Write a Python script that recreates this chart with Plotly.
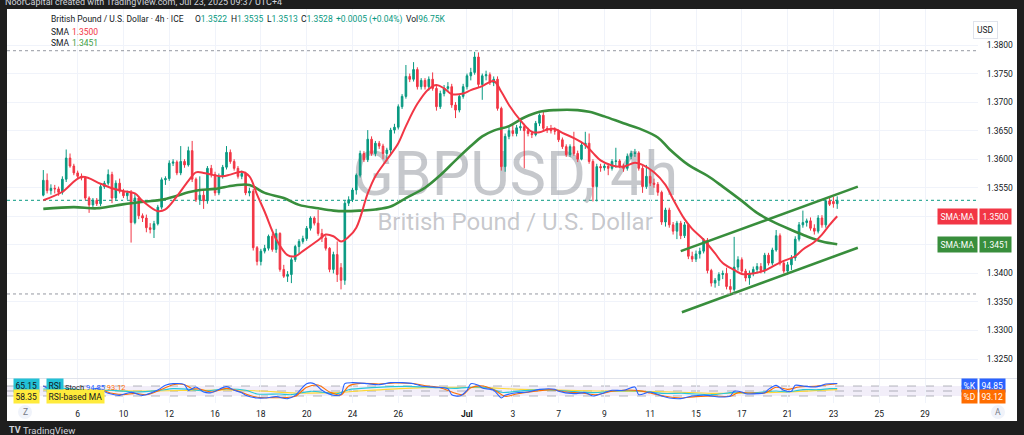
import plotly.graph_objects as go

W, H = 1024, 435
FONT = "Roboto, 'Noto Sans', sans-serif"
TXT = "#131722"
UP = "#089981"
DOWN = "#f23645"
GREEN = "#388e3c"
GRID = "#f0f3fa"

# ---------------- data ----------------
opens = [1.3537,1.3563,1.3545,1.3549,1.3548,1.3542,1.3565,1.3602,1.3588,1.3576,
 1.3570,1.3567,1.3532,1.3520,1.3528,1.3522,1.3552,1.3558,1.3573,1.3532,
 1.3558,1.3544,1.3536,1.3541,1.3489,1.3532,1.3501,1.3497,1.3480,1.3477,
 1.3487,1.3516,1.3564,1.3566,1.3593,1.3595,1.3576,1.3596,1.3590,1.3615,
 1.3565,1.3529,1.3537,1.3527,1.3584,1.3573,1.3541,1.3570,1.3586,1.3612,
 1.3596,1.3584,1.3570,1.3575,1.3541,1.3544,1.3445,1.3421,1.3439,1.3444,
 1.3465,1.3442,1.3470,1.3407,1.3395,1.3398,1.3424,1.3447,1.3456,1.3461,
 1.3479,1.3497,1.3488,1.3470,1.3462,1.3444,1.3407,1.3433,1.3410,1.3388,
 1.3523,1.3529,1.3546,1.3572,1.3610,1.3599,1.3635,1.3610,1.3628,1.3623,
 1.3610,1.3616,1.3651,1.3656,1.3692,1.3710,1.3745,1.3740,1.3757,1.3727,
 1.3738,1.3727,1.3740,1.3724,1.3692,1.3715,1.3724,1.3727,1.3695,1.3686,
 1.3710,1.3727,1.3746,1.3752,1.3779,1.3731,1.3746,1.3748,1.3734,1.3740,
 1.3689,1.3587,1.3640,1.3650,1.3645,1.3655,1.3657,1.3650,1.3645,1.3643,
 1.3663,1.3677,1.3654,1.3651,1.3650,1.3649,1.3634,1.3622,1.3608,1.3622,
 1.3610,1.3600,1.3625,1.3628,1.3596,1.3552,1.3587,1.3585,1.3588,1.3584,
 1.3596,1.3597,1.3588,1.3584,1.3605,1.3610,1.3611,1.3584,1.3552,1.3570,
 1.3558,1.3556,1.3542,1.3490,1.3511,1.3485,1.3474,1.3488,1.3466,1.3485,
 1.3430,1.3425,1.3434,1.3439,1.3458,1.3405,1.3383,1.3388,1.3398,1.3400,
 1.3377,1.3372,1.3411,1.3424,1.3404,1.3392,1.3400,1.3407,1.3412,1.3405,
 1.3432,1.3418,1.3441,1.3466,1.3418,1.3404,1.3415,1.3427,1.3460,1.3485,
 1.3489,1.3492,1.3479,1.3474,1.3497,1.3485,1.3527,1.3526,1.3522]
highs = [1.3581,1.3575,1.3556,1.3555,1.3552,1.3570,1.3617,1.3610,1.3592,1.3580,
 1.3575,1.3570,1.3535,1.3532,1.3532,1.3556,1.3562,1.3582,1.3578,1.3563,
 1.3566,1.3548,1.3545,1.3546,1.3540,1.3536,1.3505,1.3503,1.3488,1.3492,
 1.3520,1.3568,1.3570,1.3598,1.3600,1.3598,1.3623,1.3600,1.3622,1.3632,
 1.3568,1.3570,1.3545,1.3588,1.3590,1.3578,1.3575,1.3590,1.3623,1.3617,
 1.3600,1.3588,1.3580,1.3578,1.3550,1.3548,1.3448,1.3443,1.3450,1.3468,
 1.3470,1.3478,1.3472,1.3415,1.3404,1.3428,1.3450,1.3460,1.3466,1.3483,
 1.3500,1.3500,1.3511,1.3478,1.3466,1.3446,1.3438,1.3456,1.3418,1.3527,
 1.3535,1.3550,1.3575,1.3615,1.3614,1.3651,1.3640,1.3632,1.3632,1.3627,
 1.3620,1.3655,1.3662,1.3696,1.3714,1.3765,1.3750,1.3770,1.3761,1.3742,
 1.3742,1.3745,1.3752,1.3728,1.3720,1.3730,1.3735,1.3732,1.3700,1.3714,
 1.3732,1.3750,1.3760,1.3788,1.3787,1.3750,1.3755,1.3752,1.3745,1.3745,
 1.3692,1.3645,1.3658,1.3660,1.3660,1.3668,1.3662,1.3655,1.3650,1.3667,
 1.3680,1.3685,1.3658,1.3660,1.3656,1.3652,1.3638,1.3626,1.3626,1.3648,
 1.3615,1.3630,1.3648,1.3645,1.3600,1.3592,1.3592,1.3592,1.3592,1.3600,
 1.3620,1.3600,1.3592,1.3610,1.3615,1.3618,1.3614,1.3588,1.3590,1.3582,
 1.3566,1.3560,1.3545,1.3515,1.3515,1.3490,1.3492,1.3492,1.3490,1.3488,
 1.3438,1.3440,1.3445,1.3462,1.3462,1.3408,1.3392,1.3402,1.3405,1.3410,
 1.3390,1.3464,1.3430,1.3428,1.3408,1.3405,1.3412,1.3418,1.3418,1.3436,
 1.3436,1.3445,1.3476,1.3470,1.3422,1.3420,1.3432,1.3465,1.3490,1.3510,
 1.3496,1.3498,1.3486,1.3502,1.3502,1.3530,1.3535,1.3534,1.3535]
lows = [1.3535,1.3540,1.3538,1.3540,1.3536,1.3538,1.3560,1.3585,1.3572,1.3566,
 1.3563,1.3528,1.3506,1.3515,1.3518,1.3518,1.3548,1.3554,1.3523,1.3528,
 1.3540,1.3532,1.3529,1.3454,1.3486,1.3495,1.3490,1.3472,1.3470,1.3462,
 1.3484,1.3512,1.3555,1.3562,1.3588,1.3572,1.3572,1.3585,1.3587,1.3560,
 1.3525,1.3520,1.3513,1.3522,1.3568,1.3536,1.3537,1.3566,1.3582,1.3592,
 1.3580,1.3566,1.3565,1.3537,1.3535,1.3440,1.3414,1.3414,1.3435,1.3440,
 1.3438,1.3436,1.3403,1.3392,1.3385,1.3383,1.3420,1.3435,1.3452,1.3457,
 1.3475,1.3484,1.3466,1.3455,1.3440,1.3402,1.3400,1.3385,1.3372,1.3380,
 1.3518,1.3525,1.3538,1.3568,1.3595,1.3595,1.3606,1.3605,1.3618,1.3600,
 1.3598,1.3608,1.3645,1.3652,1.3688,1.3706,1.3735,1.3736,1.3722,1.3722,
 1.3722,1.3720,1.3720,1.3685,1.3688,1.3710,1.3718,1.3690,1.3672,1.3682,
 1.3706,1.3722,1.3738,1.3748,1.3726,1.3704,1.3738,1.3730,1.3728,1.3685,
 1.3580,1.3578,1.3635,1.3640,1.3640,1.3650,1.3584,1.3640,1.3637,1.3640,
 1.3658,1.3650,1.3646,1.3645,1.3643,1.3630,1.3618,1.3604,1.3604,1.3606,
 1.3595,1.3598,1.3618,1.3592,1.3526,1.3526,1.3578,1.3580,1.3572,1.3580,
 1.3585,1.3584,1.3578,1.3580,1.3600,1.3604,1.3580,1.3541,1.3548,1.3553,
 1.3550,1.3536,1.3485,1.3482,1.3480,1.3468,1.3460,1.3460,1.3462,1.3425,
 1.3420,1.3420,1.3426,1.3435,1.3400,1.3377,1.3375,1.3378,1.3390,1.3372,
 1.3366,1.3368,1.3405,1.3400,1.3386,1.3380,1.3395,1.3400,1.3400,1.3400,
 1.3414,1.3414,1.3438,1.3414,1.3400,1.3398,1.3406,1.3422,1.3456,1.3480,
 1.3482,1.3475,1.3468,1.3470,1.3480,1.3480,1.3518,1.3515,1.3513]
closes = [1.3563,1.3545,1.3549,1.3548,1.3542,1.3565,1.3602,1.3588,1.3576,1.3570,
 1.3567,1.3532,1.3520,1.3528,1.3522,1.3552,1.3558,1.3573,1.3532,1.3558,
 1.3544,1.3536,1.3541,1.3489,1.3532,1.3501,1.3497,1.3480,1.3477,1.3487,
 1.3516,1.3564,1.3566,1.3593,1.3595,1.3576,1.3596,1.3590,1.3615,1.3565,
 1.3529,1.3537,1.3527,1.3584,1.3573,1.3541,1.3570,1.3586,1.3612,1.3596,
 1.3584,1.3570,1.3575,1.3541,1.3544,1.3445,1.3421,1.3439,1.3444,1.3465,
 1.3442,1.3470,1.3407,1.3395,1.3398,1.3424,1.3447,1.3456,1.3461,1.3479,
 1.3497,1.3488,1.3470,1.3462,1.3444,1.3407,1.3433,1.3398,1.3388,1.3523,
 1.3529,1.3546,1.3572,1.3610,1.3599,1.3635,1.3610,1.3628,1.3623,1.3610,
 1.3616,1.3651,1.3656,1.3692,1.3710,1.3745,1.3740,1.3757,1.3727,1.3738,
 1.3727,1.3740,1.3724,1.3692,1.3715,1.3724,1.3727,1.3695,1.3686,1.3710,
 1.3727,1.3746,1.3752,1.3779,1.3731,1.3746,1.3748,1.3734,1.3740,1.3689,
 1.3587,1.3640,1.3650,1.3645,1.3655,1.3657,1.3650,1.3645,1.3643,1.3663,
 1.3677,1.3654,1.3651,1.3650,1.3649,1.3634,1.3622,1.3608,1.3622,1.3610,
 1.3600,1.3625,1.3628,1.3596,1.3552,1.3587,1.3585,1.3588,1.3584,1.3596,
 1.3597,1.3588,1.3584,1.3605,1.3610,1.3611,1.3584,1.3552,1.3570,1.3558,
 1.3556,1.3542,1.3490,1.3511,1.3485,1.3474,1.3488,1.3466,1.3485,1.3430,
 1.3425,1.3434,1.3439,1.3458,1.3405,1.3383,1.3388,1.3398,1.3400,1.3377,
 1.3372,1.3411,1.3424,1.3404,1.3392,1.3400,1.3407,1.3412,1.3405,1.3432,
 1.3418,1.3441,1.3466,1.3418,1.3404,1.3415,1.3427,1.3460,1.3485,1.3489,
 1.3492,1.3479,1.3474,1.3497,1.3485,1.3527,1.3521,1.3522,1.3528]
candle_idx = list(range(len(closes)))

sma_fast_idx = [0,5,10,15,18,21,24,26,30,32,35,38,40,42,44,47,49,52,54,56,58,61,64,66,68,72,74,76,78,80,
 82,85,87,90,93,95,98,101,103,105,107,110,112,115,118,120,122,125,128,130,132,134,136,139,142,144,146,149,152,155,
 157,160,163,165,168,170,173,176,178,181,183,186,189,191,194,197,199,202,204,206,208]
sma_fast_val = [1.3528,1.3543,1.3569,1.3557,1.3549,1.3544,1.3540,1.3527,1.3509,1.3512,1.3535,1.3562,1.3577,1.3576,
 1.3573,1.3570,1.3573,1.3578,1.3570,1.3538,1.3508,1.3460,1.3432,1.3430,1.3439,1.3458,1.3468,1.3465,1.3456,1.3464,
 1.3480,1.3540,1.3570,1.3599,1.3628,1.3658,1.3697,1.3723,1.3730,1.3724,1.3714,1.3715,1.3721,1.3728,1.3737,1.3718,
 1.3695,1.3668,1.3648,1.3647,1.3652,1.3653,1.3646,1.3637,1.3625,1.3611,1.3598,1.3589,1.3587,1.3594,1.3590,1.3577,
 1.3555,1.3530,1.3495,1.3478,1.3459,1.3435,1.3418,1.3406,1.3399,1.3400,1.3405,1.3412,1.3422,1.3430,1.3442,1.3455,
 1.3468,1.3485,1.3500]
sma_slow_idx = [0,8,14,19,23,27,31,35,38,41,45,50,54,58,63,67,72,76,79,83,87,91,95,100,104,108,112,115,118,122,
 126,130,134,140,143,147,152,156,161,164,169,174,178,183,187,191,196,200,204,208]
sma_slow_val = [1.3513,1.3516,1.3514,1.3519,1.3523,1.3526,1.3529,1.3536,1.3542,1.3546,1.3548,1.3554,1.3555,1.3541,
 1.3532,1.3520,1.3514,1.3510,1.3509,1.3510,1.3512,1.3517,1.3532,1.3550,1.3572,1.3598,1.3623,1.3640,1.3650,1.3658,
 1.3673,1.3683,1.3686,1.3686,1.3683,1.3675,1.3663,1.3654,1.3638,1.3618,1.3590,1.3571,1.3552,1.3527,1.3506,1.3491,
 1.3476,1.3465,1.3456,1.3451]

channel_upper_idx = [167.0, 213.4]
channel_upper_val = [1.3439, 1.3552]
channel_lower_idx = [167.3, 213.4]
channel_lower_val = [1.3332, 1.3445]

hline_levels = [1.3790, 1.3364]
last_price = 1.3528
sma_fast_last = 1.3500
sma_slow_last = 1.3451

price_ticks = [1.3250, 1.3300, 1.3350, 1.3400, 1.3450, 1.3500, 1.3550, 1.3600, 1.3650, 1.3700, 1.3750, 1.3800]
# labels at 1.3450 / 1.3500 sit under the SMA price labels, so they are left blank
price_tick_text = ["1.3250", "1.3300", "1.3350", "1.3400", "", "", "1.3550", "1.3600", "1.3650", "1.3700",
                   "1.3750", "1.3800"]
date_tick_idx = [9, 21, 33, 45, 57, 69, 81, 93, 111, 123, 135, 147, 159, 171, 183, 195, 207, 219, 231]
date_tick_text = ["6", "10", "12", "16", "18", "20", "24", "26", "<b>Jul</b>", "3", "7", "9", "11", "15", "17",
                  "21", "23", "25", "29"]

stoch_k_idx = [0,3,6,9,11,14,17,20,23,26,30,32,34,37,38,40,42,44,48,50,52,53,56,58,61,64,66,69,71,73,
 76,78,79,81,85,88,91,94,97,99,102,106,107,109,111,112,114,115,118,120,121,124,127,130,134,135,139,142,144,147,
 149,152,155,156,159,162,164,167,170,174,177,180,181,183,184,187,189,190,192,194,196,197,199,202,204,205,208]
stoch_k_val = [80,50,42,26,36,66,36,24,42,24,56,84,94,88,54,74,44,40,76,54,40,24,8,8,16,4,24,94,94,54,
 24,30,94,100,94,88,100,100,94,80,74,64,28,20,54,94,84,68,54,8,24,40,44,60,60,48,34,40,20,40,
 54,54,74,28,44,20,8,4,20,24,14,20,48,44,34,34,40,60,84,54,48,84,80,74,84,92,94.85]
stoch_d_idx = [0,4,8,11,15,18,21,24,27,31,34,37,39,41,44,48,51,54,57,60,63,66,69,72,75,78,80,83,88,92,
 97,100,104,108,110,112,115,118,121,124,128,133,137,141,145,149,153,156,159,163,167,171,176,180,182,185,189,192,195,198,
 202,205,208]
stoch_d_val = [78,56,36,32,56,36,28,36,28,60,88,88,64,62,44,66,50,24,10,10,10,18,72,86,44,26,80,96,92,98,
 95,82,70,36,28,70,80,58,18,32,46,58,44,38,28,48,56,52,38,18,8,16,20,18,40,38,38,72,60,74,
 78,86,93.12]
rsi_idx = [0,6,12,18,24,30,34,39,42,48,53,56,62,65,70,74,77,80,86,95,102,108,113,117,120,126,131,137,144,150,
 156,162,168,175,181,185,192,195,199,203,206,208]
rsi_val = [62,66,50,54,44,52,64,58,50,62,54,32,32,28,48,40,34,58,70,78,72,66,74,68,42,52,58,50,40,50,
 50,36,36,28,42,38,50,44,58,58,64,65.15]
rsi_ma_idx = [0,12,24,36,48,57,66,76,84,95,105,115,125,135,145,155,165,175,185,195,202,208]
rsi_ma_val = [56,57,50,53,56,50,38,40,52,66,72,70,60,55,50,48,44,36,38,44,52,58.35]
osc_levels = [20, 50, 80]

# ---------------- geometry helpers ----------------
def px(x):
    return x / W

def py(y):
    return 1 - y / H

X_RANGE = [-9.51, 244.88]
Y_RANGE = [1.321681, 1.386305]
MAIN_TOP, MAIN_BOT = 9, 378
OSC_TOP, OSC_BOT = 379, 403
PLOT_L, PLOT_R = 7, 978

fig = go.Figure()

# watermark (base subplot, under candles)
fig.add_trace(go.Scatter(x=[123.6], y=[0.537], mode="text", text=["GBPUSD, 4h"],
                         textfont=dict(family=FONT, size=61, color="rgba(120,123,134,0.42)"),
                         xaxis="x", yaxis="y", hoverinfo="skip"))
fig.add_trace(go.Scatter(x=[123.6], y=[0.417], mode="text", text=["British Pound / U.S. Dollar"],
                         textfont=dict(family=FONT, size=24, color="rgba(120,123,134,0.42)"),
                         xaxis="x", yaxis="y", hoverinfo="skip"))

# candles
fig.add_trace(go.Candlestick(x=candle_idx, open=opens, high=highs, low=lows, close=closes,
                             xaxis="x", yaxis="y3", whiskerwidth=0,
                             increasing=dict(line=dict(color=UP, width=1), fillcolor=UP),
                             decreasing=dict(line=dict(color=DOWN, width=1), fillcolor=DOWN),
                             hoverinfo="skip"))
# SMAs
fig.add_trace(go.Scatter(x=sma_slow_idx, y=sma_slow_val, mode="lines", xaxis="x", yaxis="y3",
                         line=dict(color=GREEN, width=2.6, shape="spline", smoothing=1), hoverinfo="skip"))
fig.add_trace(go.Scatter(x=sma_fast_idx, y=sma_fast_val, mode="lines", xaxis="x", yaxis="y3",
                         line=dict(color=DOWN, width=2, shape="spline", smoothing=1), hoverinfo="skip"))
# channel
for cx, cy in [(channel_upper_idx, channel_upper_val), (channel_lower_idx, channel_lower_val)]:
    fig.add_trace(go.Scatter(x=cx, y=cy, mode="lines", xaxis="x", yaxis="y3",
                             line=dict(color=GREEN, width=2.6), hoverinfo="skip"))

# oscillators
for ix, vals, col in [(rsi_ma_idx, rsi_ma_val, "#fdd835"), (rsi_idx, rsi_val, "#26c6da"),
                      (stoch_d_idx, stoch_d_val, "#ff6d00"), (stoch_k_idx, stoch_k_val, "#2962ff")]:
    fig.add_trace(go.Scatter(x=ix, y=vals, mode="lines", xaxis="x2", yaxis="y2",
                             line=dict(color=col, width=1.1, shape="spline", smoothing=0.8), hoverinfo="skip"))

shapes = []
# white panel
shapes.append(dict(type="rect", xref="paper", yref="paper", x0=px(7), x1=px(1017), y0=py(421), y1=py(9),
                   fillcolor="white", line=dict(width=0), layer="below"))
# pane separator
shapes.append(dict(type="line", xref="paper", yref="paper", x0=px(7), x1=px(1017), y0=py(378.5), y1=py(378.5),
                   line=dict(color="#e0e3eb", width=1), layer="below"))
# horizontal drawn levels
for lv in hline_levels:
    shapes.append(dict(type="line", xref="x domain", yref="y3", x0=0, x1=1, y0=lv, y1=lv,
                       line=dict(color="#9598a1", width=1, dash="dot"), layer="above"))
shapes.append(dict(type="line", xref="x domain", yref="y3", x0=0, x1=1, y0=last_price, y1=last_price,
                   line=dict(color=UP, width=1, dash="dot"), layer="below"))
# oscillator band
shapes.append(dict(type="rect", xref="x2 domain", yref="y2", x0=0, x1=1, y0=osc_levels[0], y1=osc_levels[2],
                   fillcolor="rgba(126,87,194,0.10)", line=dict(width=0), layer="below"))
for lv in osc_levels:
    shapes.append(dict(type="line", xref="x2 domain", yref="y2", x0=0, x1=1, y0=lv, y1=lv,
                       line=dict(color="rgba(120,123,134,0.55)", width=1, dash="dash"), layer="below"))
# Z / A buttons
for cxp in (25, 998):
    shapes.append(dict(type="circle", xref="paper", yref="paper", x0=px(cxp - 7), x1=px(cxp + 7),
                       y0=py(419), y1=py(405), fillcolor="#f0f3fa", line=dict(width=0), layer="below"))

ann = []

def A(x, y, text, size=8.5, color=TXT, xanchor="left", yanchor="middle", bg=None, xref="paper",
      yref="paper", pad=1, family=FONT):
    d = dict(x=x, y=y, xref=xref, yref=yref, text=text, showarrow=False, xanchor=xanchor, yanchor=yanchor,
             font=dict(family=family, size=size, color=color), borderpad=pad)
    if bg:
        d["bgcolor"] = bg
    ann.append(d)

def span(c, t):
    return f"<span style='color:{c}'>{t}</span>"

# top banner (cut by the top edge, as in the original snapshot)
A(px(3), py(1.5), "NoorCapital created with TradingView.com, Jul 23, 2025 09:37 UTC+4", size=9, color="#d1d4dc")
# header legend
A(px(49), py(19), "British Pound / U.S. Dollar · 4h · ICE")
A(px(193), py(19), "O" + span(UP, "1.3522"))
A(px(229), py(19), "H" + span(UP, "1.3535"))
A(px(265), py(19), "L" + span(UP, "1.3513"))
A(px(299), py(19), "C" + span(UP, "1.3528"))
A(px(334), py(19), span(UP, "+0.0005 (+0.04%)"))
A(px(404), py(19), "Vol" + span(UP, "96.75K"))
A(px(49), py(32), "SMA")
A(px(70), py(32), span(DOWN, "1.3500"))
A(px(49), py(43), "SMA")
A(px(70), py(43), span("#43a047", "1.3451"))
# USD box
ann.append(dict(x=px(998), y=py(20.5), xref="paper", yref="paper", text="USD", showarrow=False,
                font=dict(family=FONT, size=8.5, color=TXT), bgcolor="white", bordercolor="#e0e3eb",
                borderwidth=1, borderpad=3))
# price-scale labels for SMAs
A(px(978), sma_fast_last, "SMA:MA", color="white", xanchor="right", bg=DOWN, yref="y3", pad=2.5)
A(px(979), sma_fast_last, "1.3500", color="white", xanchor="left", bg=DOWN, yref="y3", pad=2.5)
A(px(978), sma_slow_last, "SMA:MA", color="white", xanchor="right", bg=GREEN, yref="y3", pad=2.5)
A(px(979), sma_slow_last, "1.3451", color="white", xanchor="left", bg=GREEN, yref="y3", pad=2.5)
# oscillator scale labels
A(px(978), py(385.5), "%K", color="white", xanchor="right", bg="#2962ff", pad=1.5)
A(px(979), py(385.5), "94.85", color="white", xanchor="left", bg="#2962ff", pad=1.5)
A(px(978), py(396.5), "%D", color="white", xanchor="right", bg="#ff6d00", pad=1.5)
A(px(979), py(396.5), "93.12", color="white", xanchor="left", bg="#ff6d00", pad=1.5)
# oscillator legend
A(px(13), py(385.5), "65.15", bg="#22c1d6", pad=1.5)
A(px(46), py(385.5), "RSI", bg="#22c1d6", pad=1.5)
A(px(13), py(396.5), "58.35", bg="#ffeb3b", pad=1.5)
A(px(46), py(396.5), "RSI-based MA", bg="#ffeb3b", pad=1.5)
A(px(63), py(387.5), "Stoch " + span("#2962ff", "94.85") + " " + span("#ff6d00", "93.12"), size=7.5)
# Z / A
A(px(25), py(412), "Z", size=8.5, color="#787b86", xanchor="center")
A(px(998), py(412), "A", size=8.5, color="#787b86", xanchor="center")
# footer (cut by the bottom edge, as in the original snapshot)
A(px(7), py(430), "<b>TV</b>", size=9, color="#d1d4dc")
A(px(21), py(430), "TradingView", size=9.5, color="#d1d4dc")

fig.update_layout(
    width=W, height=H, margin=dict(l=0, r=0, t=0, b=0),
    paper_bgcolor="#1e1e1e", plot_bgcolor="rgba(0,0,0,0)",
    showlegend=False, boxgap=0.4, hovermode=False,
    shapes=shapes, annotations=ann,
    xaxis=dict(domain=[px(PLOT_L), px(PLOT_R)], range=X_RANGE, anchor="y", tickvals=date_tick_idx,
               showticklabels=False, showgrid=True, gridcolor=GRID, gridwidth=1, zeroline=False,
               showline=False, ticks="", rangeslider=dict(visible=False), fixedrange=True),
    yaxis=dict(domain=[py(MAIN_BOT), py(MAIN_TOP)], range=[0, 1], visible=False, fixedrange=True),
    yaxis3=dict(overlaying="y", anchor="x", side="right", range=Y_RANGE, tickvals=price_ticks,
                ticktext=price_tick_text, showgrid=True, gridcolor=GRID, zeroline=False,
                showline=False, ticks="outside", ticklen=6, tickcolor="rgba(0,0,0,0)",
                tickfont=dict(family=FONT, size=8.5, color=TXT), fixedrange=True),
    xaxis2=dict(domain=[px(PLOT_L), px(PLOT_R)], range=X_RANGE, anchor="y2", tickvals=date_tick_idx,
                ticktext=date_tick_text, showgrid=True, gridcolor=GRID, zeroline=False, showline=False,
                ticks="outside", ticklen=3, tickcolor="rgba(0,0,0,0)",
                tickfont=dict(family=FONT, size=8.5, color=TXT), fixedrange=True),
    yaxis2=dict(domain=[py(OSC_BOT), py(OSC_TOP)], range=[-22, 122], visible=False, fixedrange=True),
)

fig.write_html("out.html", config={"displayModeBar": False},
               post_script="document.body.style.margin='0px';document.body.style.overflow='hidden';")
